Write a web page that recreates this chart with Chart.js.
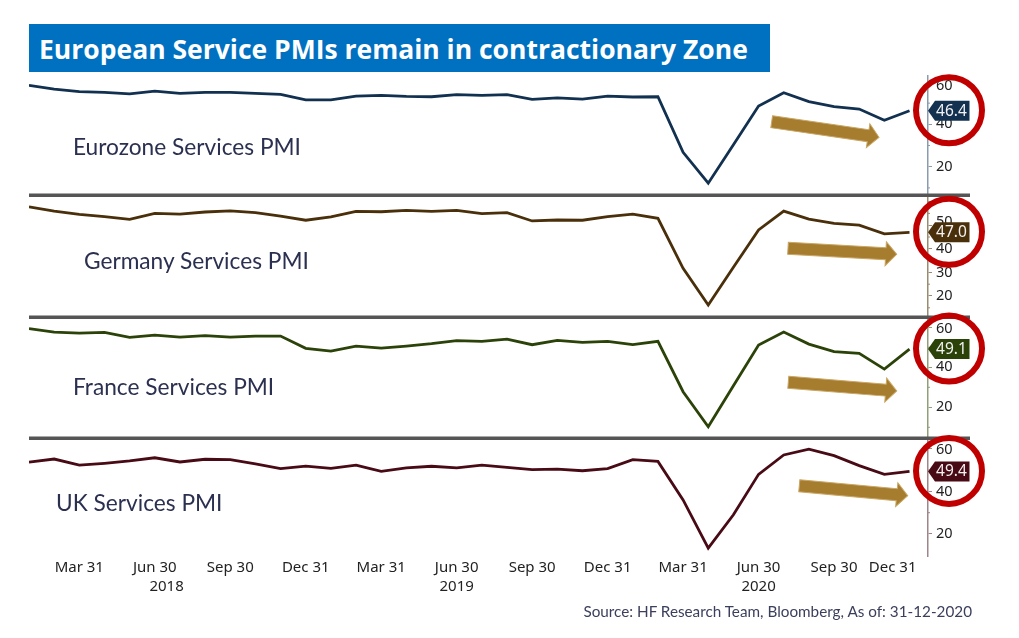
<!DOCTYPE html>
<html>
<head>
<meta charset="utf-8">
<script src="https://cdn.jsdelivr.net/npm/chart.js@4"></script>
<style>
  body { margin: 0; background: #fff; overflow: hidden; }
  #wrap { position: relative; width: 1019px; height: 638px; }
  canvas { position: absolute; left: 0; top: 0; }
  .txt { position: absolute; white-space: nowrap; color: #2b3050; font-family: Lato, sans-serif; }
  #titulo { left: 29px; top: 24px; width: 741px; height: 48px; line-height: 50px; background: #0070c0; color: #fff;
            font-family: "Open Sans", sans-serif; font-weight: 700; font-size: 26.5px; text-indent: 10px; }
  .serie { font-size: 22.7px; line-height: 26px; }
  #fuente { right: 47px; top: 602px; font-size: 15.27px; line-height: 18px; color: #3b3f5c; }
</style>
</head>
<body>
<div id="wrap">
  <canvas id="grafica" width="1019" height="638"></canvas>
  <div class="txt" id="titulo">European Service PMIs remain in contractionary Zone</div>
  <div class="txt serie" style="left:73px;top:134px">Eurozone Services PMI</div>
  <div class="txt serie" style="left:84px;top:248px">Germany Services PMI</div>
  <div class="txt serie" style="left:73px;top:374px">France Services PMI</div>
  <div class="txt serie" style="left:56px;top:490px">UK Services PMI</div>
  <div class="txt" id="fuente">Source: HF Research Team, Bloomberg, As of: 31-12-2020</div>
</div>
<script>
// Datos (ene 2018 - dic 2020, mensual)
const meses = ['2018-01','2018-02','2018-03','2018-04','2018-05','2018-06','2018-07','2018-08','2018-09','2018-10','2018-11','2018-12',
  '2019-01','2019-02','2019-03','2019-04','2019-05','2019-06','2019-07','2019-08','2019-09','2019-10','2019-11','2019-12',
  '2020-01','2020-02','2020-03','2020-04','2020-05','2020-06','2020-07','2020-08','2020-09','2020-10','2020-11','2020-12'];
const eurozona = [58.4,56.6,55.4,55.1,54.4,55.7,54.6,55.1,55.1,54.6,54.1,51.5,51.5,53.3,53.7,53.2,53.0,54.0,53.7,54.0,51.8,52.5,51.9,53.3,52.9,53.0,26.8,12.2,30.4,48.6,54.9,50.7,48.3,47.2,41.9,46.4];
const alemania = [57.8,56.0,54.6,53.6,52.5,55.0,54.7,55.6,56.1,55.3,53.8,52.1,53.5,55.9,55.7,56.3,55.9,56.3,54.9,55.3,51.8,52.2,52.1,53.6,54.7,52.9,31.7,16.2,32.2,48.0,56.0,52.6,50.8,50.0,46.3,47.0];
const francia = [59.3,57.6,57.1,57.5,55.0,56.1,55.1,55.8,55.1,55.6,55.6,49.5,48.1,50.6,49.6,50.6,51.8,53.3,53.0,54.1,51.3,53.5,52.5,53.0,51.3,53.0,27.8,10.3,30.8,51.1,57.6,51.6,47.8,47.0,39.1,49.1];
const reinoUnido = [53.7,55.2,52.3,53.2,54.3,55.8,53.8,55.1,54.9,52.9,50.7,51.9,50.8,52.3,49.4,51.0,51.8,51.0,52.3,51.3,50.2,50.5,49.7,50.7,54.9,54.1,36.0,13.4,29.0,48.0,57.1,59.8,56.8,52.1,48.0,49.4];

// Etiquetas del eje X (el ultimo "Dec 31" va corrido a la izquierda en el original)
const xTicks = [2,5,8,11,14,17,20,23,26,29,32,34.33];
const xEtiquetas = ['Mar 31','Jun 30','Sep 30','Dec 31','Mar 31','Jun 30','Sep 30','Dec 31','Mar 31','Jun 30','Sep 30','Dec 31'];
const anios = ['2018','2019','2020'];
const aniosPos = [5.47,17,29];

// "corridas": etiquetas que el original aparta de la etiqueta de ultimo valor (px)
const paneles = [
  { id: 'y1', nombre: 'Eurozone Services PMI', datos: eurozona, color: '#12304f', eje: '#8a9bb0', min: 6.65, max: 62.8, peso: 119, ticks: [20,40,60], menores: [10,30,50], corridas: { 60: 4 }, flecha: [771.7,121.7,879,137.3] },
  { id: 'y2', nombre: 'Germany Services PMI', datos: alemania, color: '#4a2f0b', eje: '#9a8b70', min: 11.1, max: 62.8, peso: 122, ticks: [20,30,40,50], menores: [15,25,35,45,55,60], corridas: { 50: -3 }, flecha: [788,248.3,896.7,254.3] },
  { id: 'y3', nombre: 'France Services PMI', datos: francia, color: '#2b4208', eje: '#8f9f78', min: 4.65, max: 65.15, peso: 121, ticks: [20,40,60], menores: [10,30,50], corridas: { 60: 2 }, flecha: [788.3,382.3,896.7,391] },
  { id: 'y4', nombre: 'UK Services PMI', datos: reinoUnido, color: '#480a14', eje: '#a08488', min: 9.67, max: 65.07, peso: 118, ticks: [20,40,60], menores: [30,50], corridas: { 60: 1.5 }, flecha: [799.3,485.7,907.7,495.7] }
];

const fuenteEjes = '"Noto Sans"';

function dibujarFlecha(ctx, x1, y1, x2, y2) {
  const ang = Math.atan2(y2 - y1, x2 - x1);
  const largo = Math.hypot(x2 - x1, y2 - y1);
  ctx.save();
  ctx.translate(x1, y1);
  ctx.rotate(ang);
  ctx.beginPath();
  ctx.moveTo(0, -6);
  ctx.lineTo(largo - 11, -6);
  ctx.lineTo(largo - 11, -12);
  ctx.lineTo(largo, 0);
  ctx.lineTo(largo - 11, 12);
  ctx.lineTo(largo - 11, 6);
  ctx.lineTo(0, 6);
  ctx.closePath();
  ctx.fillStyle = '#a67c2e';
  ctx.fill();
  ctx.strokeStyle = '#c9a765';
  ctx.lineWidth = 1;
  ctx.stroke();
  ctx.restore();
}

// Separadores, marcas menores, anios, flechas, etiquetas de ultimo valor y circulos
const extras = {
  id: 'extras',
  afterDraw(chart) {
    const { ctx, scales } = chart;
    ctx.save();
    paneles.forEach((p, i) => {
      const esc = scales[p.id];
      ctx.strokeStyle = p.eje;
      ctx.lineWidth = 1;
      p.menores.forEach(v => {
        const y = esc.getPixelForValue(v);
        ctx.beginPath();
        ctx.moveTo(928, y);
        ctx.lineTo(930, y);
        ctx.stroke();
      });
      if (i < paneles.length - 1) {
        ctx.fillStyle = '#555555';
        ctx.fillRect(29, esc.bottom - 1.5, 941, 3.5);
      }
      // etiquetas corridas
      ctx.fillStyle = '#222';
      ctx.font = '14.5px ' + fuenteEjes;
      ctx.textAlign = 'left';
      ctx.textBaseline = 'middle';
      Object.keys(p.corridas).forEach(v => ctx.fillText(v, 936, esc.getPixelForValue(+v) + p.corridas[v]));
    });
    ctx.fillStyle = '#222';
    ctx.font = '15px ' + fuenteEjes;
    ctx.textAlign = 'center';
    ctx.textBaseline = 'middle';
    anios.forEach((a, i) => ctx.fillText(a, scales.x.getPixelForValue(aniosPos[i]), 587));

    paneles.forEach(p => {
      const f = p.flecha;
      dibujarFlecha(ctx, f[0], f[1], f[2], f[3]);
      const ultimo = p.datos[p.datos.length - 1];
      const y = scales[p.id].getPixelForValue(ultimo);
      // etiqueta del ultimo valor
      ctx.beginPath();
      ctx.moveTo(928, y);
      ctx.lineTo(935, y - 10);
      ctx.lineTo(969.5, y - 10);
      ctx.lineTo(969.5, y + 10);
      ctx.lineTo(935, y + 10);
      ctx.closePath();
      ctx.fillStyle = p.color;
      ctx.fill();
      ctx.fillStyle = '#f2f2f2';
      ctx.font = '15.5px ' + fuenteEjes;
      ctx.textAlign = 'center';
      ctx.fillText(ultimo.toFixed(1), 951.5, y + 0.5);
      // circulo rojo
      ctx.beginPath();
      ctx.arc(949, y - 0.5, 33, 0, Math.PI * 2);
      ctx.strokeStyle = '#c00000';
      ctx.lineWidth = 6;
      ctx.stroke();
    });
    ctx.restore();
  }
};

const escalas = {
  x: {
    type: 'linear',
    min: 0,
    max: 35.735,
    border: { display: false },
    grid: { display: false, drawTicks: false },
    afterBuildTicks: s => { s.ticks = xTicks.map(v => ({ value: v })); },
    afterFit: s => { s.height = 82; s.paddingLeft = 0; s.paddingRight = 0; },
    ticks: {
      autoSkip: false,
      maxRotation: 0,
      padding: 3,
      color: '#222',
      font: { family: fuenteEjes, size: 15 },
      callback: v => xEtiquetas[xTicks.indexOf(v)]
    }
  }
};

paneles.forEach(p => {
  escalas[p.id] = {
    type: 'linear',
    position: 'right',
    stack: 'paneles',
    stackWeight: p.peso,
    min: p.min,
    max: p.max,
    border: { color: p.eje, width: 1.5 },
    grid: { drawOnChartArea: false, tickLength: 4, tickColor: p.eje, drawTicks: true },
    afterBuildTicks: s => { s.ticks = p.ticks.map(v => ({ value: v })); },
    afterFit: s => { s.width = 91; s.paddingTop = 0; s.paddingBottom = 0; },
    ticks: {
      autoSkip: false,
      padding: 4,
      color: '#222',
      font: { family: fuenteEjes, size: 14.5 },
      callback: v => (v in p.corridas ? '' : String(v))
    }
  };
});

const grafica = new Chart(document.getElementById('grafica').getContext('2d'), {
  type: 'line',
  data: {
    datasets: paneles.map(p => ({
      label: p.nombre,
      yAxisID: p.id,
      data: p.datos.map((v, i) => ({ x: i, y: v })),
      borderColor: p.color,
      borderWidth: 2.8,
      pointRadius: 0,
      tension: 0
    }))
  },
  options: {
    responsive: false,
    animation: false,
    devicePixelRatio: 1,
    layout: { padding: { left: 29, top: 76, right: 0, bottom: 0 } },
    plugins: { legend: { display: false }, title: { display: false }, tooltip: { enabled: false } },
    scales: escalas
  },
  plugins: [extras]
});
</script>
</body>
</html>
